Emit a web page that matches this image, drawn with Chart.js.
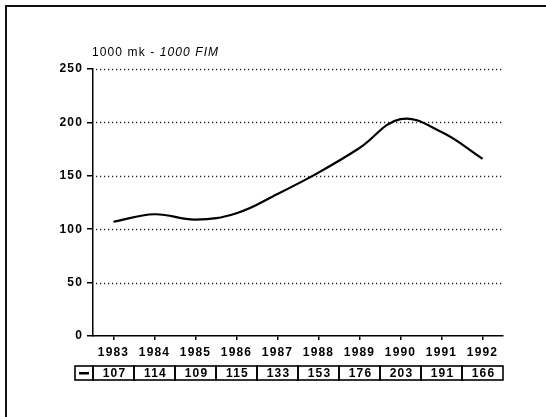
<!DOCTYPE html>
<html>
<head>
<meta charset="utf-8">
<script src="https://cdn.jsdelivr.net/npm/chart.js@4/dist/chart.umd.min.js"></script>
<style>
  html, body { margin: 0; padding: 0; background: #fff; }
  #wrap { position: relative; width: 546px; height: 417px; }
</style>
</head>
<body>
<div id="wrap"><canvas id="c" width="546" height="417"></canvas></div>
<script>
const years = ['1983','1984','1985','1986','1987','1988','1989','1990','1991','1992'];
const values = [107, 114, 109, 115, 133, 153, 176, 203, 191, 166];
const tableLabels = ['107','114','109','115','133','153','176','203','191','166'];
const yTicks = [0, 50, 100, 150, 200, 250];
const unitPlain = '1000 mk - ';
const unitItalic = '1000 FIM';

const FONT = '"Liberation Sans", Arial, Helvetica, sans-serif';

const extras = {
  id: 'extras',
  beforeDraw(chart) {
    const ctx = chart.ctx;
    ctx.letterSpacing = '1.2px';
    ctx.save();
    ctx.fillStyle = '#fff';
    ctx.fillRect(0, 0, chart.width, chart.height);
    // frame (left + top)
    ctx.fillStyle = '#111';
    ctx.fillRect(5, 5, 2, chart.height - 5);
    ctx.fillRect(5, 5, chart.width - 5, 2);
    ctx.restore();
  },
  beforeDatasetsDraw(chart) {
    const ctx = chart.ctx;
    const ys = chart.scales.y;
    const area = chart.chartArea;
    ctx.save();
    ctx.strokeStyle = '#222';
    ctx.lineWidth = 1.4;
    ctx.setLineDash([1.2, 2.8]);
    yTicks.forEach(v => {
      if (v === 0) return;
      const y = Math.round(ys.getPixelForValue(v)) + 0.5;
      ctx.beginPath();
      ctx.moveTo(area.left + 3, y);
      ctx.lineTo(area.right, y);
      ctx.stroke();
    });
    ctx.restore();
  },
  afterDraw(chart) {
    const ctx = chart.ctx;
    const xs = chart.scales.x;
    const area = chart.chartArea;
    ctx.save();
    // unit title
    ctx.letterSpacing = '1.1px';
    ctx.fillStyle = '#000';
    ctx.textBaseline = 'middle';
    ctx.textAlign = 'left';
    ctx.font = '12px ' + FONT;
    const tx = 92, ty = 53;
    ctx.fillText(unitPlain, tx, ty);
    const w = ctx.measureText(unitPlain).width;
    ctx.font = 'italic 12px ' + FONT;
    ctx.fillText(unitItalic, tx + w, ty);

    // data table
    ctx.letterSpacing = '1.2px';
    const top = 366, bot = 380;
    const band = xs.getPixelForValue(1) - xs.getPixelForValue(0);
    ctx.strokeStyle = '#000';
    ctx.lineWidth = 1.6;
    const left0 = 75;
    ctx.strokeRect(left0, top, area.left - left0, bot - top);
    // legend dash
    ctx.fillRect(79, (top + bot) / 2 - 1, 10, 2.5);
    ctx.font = 'bold 12px ' + FONT;
    ctx.textAlign = 'center';
    for (let i = 0; i < tableLabels.length; i++) {
      const cx = xs.getPixelForValue(i);
      const l = i === 0 ? area.left : cx - band / 2;
      const r = i === tableLabels.length - 1 ? area.right : cx + band / 2;
      ctx.strokeRect(l, top, r - l, bot - top);
      ctx.fillText(tableLabels[i], cx + 1, (top + bot) / 2 + 0.5);
    }
    ctx.restore();
  }
};

new Chart(document.getElementById('c'), {
  type: 'line',
  data: {
    labels: years,
    datasets: [{
      data: values,
      borderColor: '#000',
      borderWidth: 2.2,
      pointRadius: 0,
      tension: 0.4,
      fill: false
    }]
  },
  options: {
    responsive: false,
    animation: false,
    devicePixelRatio: 1,
    layout: { padding: { left: 0, right: 43, top: 69, bottom: 0 } },
    plugins: { legend: { display: false }, tooltip: { enabled: false } },
    scales: {
      x: {
        type: 'category',
        offset: true,
        grid: { display: true, drawOnChartArea: false, offset: false, tickLength: 4, color: '#000', lineWidth: 1.5 },
        border: { display: true, color: '#000', width: 1.5 },
        ticks: { color: '#000', font: { family: FONT, size: 12, weight: 'bold' }, padding: 5, maxRotation: 0, autoSkip: false },
        afterFit(s) { s.height = 81; }
      },
      y: {
        min: 0, max: 250,
        afterBuildTicks(s) { s.ticks = yTicks.map(v => ({ value: v })); },
        grid: { display: true, drawOnChartArea: false, tickLength: 6, color: '#000', lineWidth: 1.5 },
        border: { display: true, color: '#000', width: 1.5 },
        ticks: { color: '#000', font: { family: FONT, size: 12, weight: 'bold' }, padding: 4 },
        afterFit(s) { s.width = 93; }
      }
    }
  },
  plugins: [extras]
});
</script>
</body>
</html>
